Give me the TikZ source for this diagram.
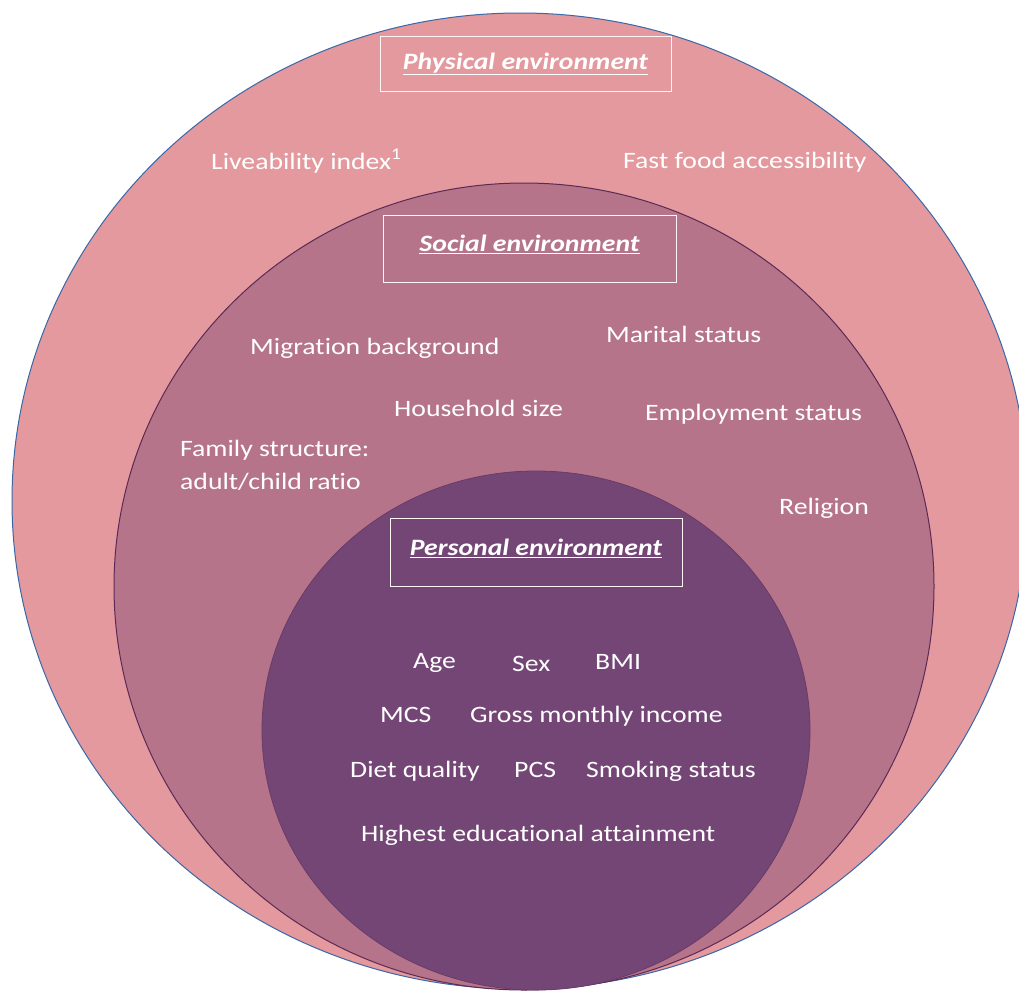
\documentclass[tikz,border=0pt]{standalone}
\usepackage{fontspec}
\setmainfont[FakeStretch=1.18, Ligatures=NoCommon]{Carlito}
\definecolor{physfill}{HTML}{E3999D}
\definecolor{socfill}{HTML}{B57489}
\definecolor{persfill}{HTML}{744675}
\definecolor{physline}{HTML}{3A67A8}
\definecolor{socline}{HTML}{5B2A55}
\definecolor{persline}{HTML}{6A3B68}
\tikzset{
  Factor/.style = { text = white, inner sep = 0pt, anchor = west,
    font = \fontsize{23.5}{33}\selectfont, text height = 16pt, text depth = 0pt },
  TitleBox/.style = { draw = white!85!pink, line width = 0.8pt, inner sep = 0pt },
  Title/.style = { text = white, inner sep = 0pt,
    font = \fontsize{23.5}{28}\selectfont\bfseries\itshape } }

\begin{document}
\begin{tikzpicture}[x=1pt, y=-1pt]
  \useasboundingbox (0,0) rectangle (1019,991);
  \clip (0,0) rectangle (1019,991);
  % the three environments
  \draw[fill=physfill, draw=physline, line width=1pt] (520,501) ellipse [x radius=508, y radius=488];
  \draw[fill=socfill, draw=socline, line width=1pt] (524,586.5) ellipse [x radius=410, y radius=403.5];
  \draw[fill=persfill, draw=persline, line width=0.8pt] (536,730.5) ellipse [x radius=274, y radius=259.5];
  % titles
  \node[TitleBox, minimum width=291pt, minimum height=55pt] (physbox) at (525.5,63.5) {};
  \node[Title] (phys) at (525.5,64) {\underline{Physical environment}};
  \node[TitleBox, minimum width=293pt, minimum height=67pt] (socbox) at (529.5,248.5) {};
  \node[Title] (soc) at (529.5,244.5) {\underline{Social environment}};
  \node[TitleBox, minimum width=292pt, minimum height=68pt] (persbox) at (536,552) {};
  \node[Title] (pers) at (536,548.5) {\underline{Personal environment}};
  % physical environment
  \node[Factor] (liv) at (211,161) {Liveability index\textsuperscript{1}};
  \node[Factor] (fast) at (623,160) {Fast food accessibility};
  % social environment
  \node[Factor] (migr) at (250,346) {Migration background};
  \node[Factor] (marit) at (606,334) {Marital status};
  \node[Factor] (house) at (394,408) {Household size};
  \node[Factor] (employ) at (645,412) {Employment status};
  \node[Factor, align=left, text height=, text depth=] (family) at (180,465.5) {Family structure:\\adult/child ratio};
  \node[Factor] (relig) at (779,506) {Religion};
  % personal environment
  \node[Factor] (age) at (413,660) {Age};
  \node[Factor] (sex) at (512,663) {Sex};
  \node[Factor] (bmi) at (595,661) {BMI};
  \node[Factor] (mcs) at (380,714) {MCS};
  \node[Factor] (income) at (470,714) {Gross monthly income};
  \node[Factor] (diet) at (350,769) {Diet quality};
  \node[Factor] (pcs) at (514,769) {PCS};
  \node[Factor] (smoke) at (586,769) {Smoking status};
  \node[Factor] (edu) at (361,833) {Highest educational attainment};
\end{tikzpicture}
\end{document}
